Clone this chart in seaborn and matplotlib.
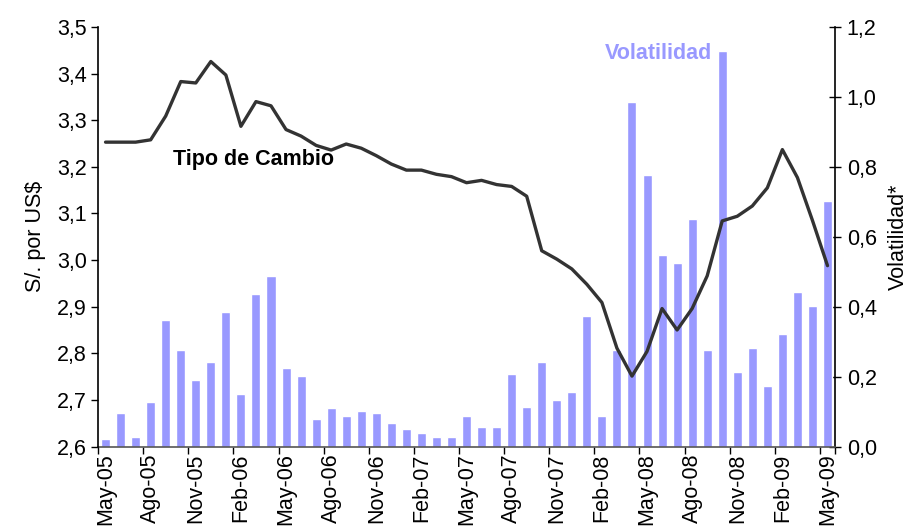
import matplotlib
matplotlib.use("Agg")
import matplotlib.pyplot as plt
import seaborn as sns
import pandas as pd
import numpy as np

months = ["May-05","Jun-05","Jul-05","Ago-05","Sep-05","Oct-05","Nov-05","Dic-05","Ene-06",
          "Feb-06","Mar-06","Abr-06","May-06","Jun-06","Jul-06","Ago-06","Sep-06","Oct-06",
          "Nov-06","Dic-06","Ene-07","Feb-07","Mar-07","Abr-07","May-07","Jun-07","Jul-07",
          "Ago-07","Sep-07","Oct-07","Nov-07","Dic-07","Ene-08","Feb-08","Mar-08","Abr-08",
          "May-08","Jun-08","Jul-08","Ago-08","Sep-08","Oct-08","Nov-08","Dic-08","Ene-09",
          "Feb-09","Mar-09","Abr-09","May-09"]

tipo_cambio = [3.253,3.253,3.253,3.258,3.309,3.383,3.380,3.426,3.397,3.287,3.340,3.331,
               3.280,3.266,3.246,3.236,3.249,3.240,3.224,3.206,3.193,3.193,3.184,3.179,
               3.166,3.171,3.162,3.158,3.137,3.020,3.002,2.981,2.948,2.909,2.811,2.751,
               2.804,2.896,2.850,2.896,2.966,3.084,3.094,3.116,3.155,3.237,3.177,3.085,2.988]

volatilidad = [0.022,0.097,0.028,0.126,0.362,0.276,0.189,0.241,0.386,0.149,0.437,0.489,
               0.224,0.201,0.080,0.109,0.086,0.103,0.097,0.068,0.051,0.039,0.028,0.028,
               0.086,0.057,0.057,0.207,0.114,0.241,0.132,0.155,0.374,0.086,0.276,0.986,
               0.778,0.547,0.524,0.651,0.276,1.130,0.212,0.282,0.172,0.322,0.443,0.403,0.703]

left_ticks = [2.6,2.7,2.8,2.9,3.0,3.1,3.2,3.3,3.4,3.5]
right_ticks = [0.0,0.2,0.4,0.6,0.8,1.0,1.2]

sns.set_theme(style="white")
plt.rcParams['font.family'] = ['Liberation Sans', 'DejaVu Sans']
plt.rcParams['text.color'] = 'black'
plt.rcParams['axes.labelcolor'] = 'black'
plt.rcParams['xtick.color'] = 'black'
plt.rcParams['ytick.color'] = 'black'

df = pd.DataFrame({"mes": months, "idx": np.arange(len(months)),
                   "tc": tipo_cambio, "vol": volatilidad})

fig = plt.figure(figsize=(9.11, 5.32), dpi=100)
ax = fig.add_axes([0.1076, 0.1607, 0.8090, 0.7885])  # bars (right scale)
ax2 = ax.twinx()  # line (left scale)

sns.barplot(data=df, x="mes", y="vol", color="#9999FF", saturation=1,
            width=0.6, ax=ax, order=months)
sns.lineplot(data=df, x="idx", y="tc", color="#333333", linewidth=2.4, ax=ax2)

n = len(months)
FS = 15.5

ax.set_ylim(0, 1.2)
ax2.set_ylim(2.6, 3.5)

# right axis for bars
ax.yaxis.tick_right()
ax.yaxis.set_label_position('right')
ax.set_yticks(right_ticks)
ax.set_yticklabels([f"{v:.1f}".replace('.', ',') for v in right_ticks], fontsize=FS)
ax.set_ylabel("Volatilidad*", fontsize=FS, labelpad=8)
ax.tick_params(axis='y', direction='inout', length=9, width=1, color='black',
               labelcolor='black', pad=4)

# left axis for line
ax2.yaxis.tick_left()
ax2.yaxis.set_label_position('left')
ax2.set_yticks(left_ticks)
ax2.set_yticklabels([f"{v:.1f}".replace('.', ',') for v in left_ticks], fontsize=FS)
ax2.set_ylabel("S/. por US$", fontsize=FS, labelpad=8)
ax2.tick_params(axis='y', direction='out', length=5, width=1, color='black',
                labelcolor='black', pad=3)

# x axis: labels every 3 months, ticks at category boundaries
lab_pos = list(range(0, n, 3))
ax.set_xticks(lab_pos)
ax.set_xticklabels([months[i] for i in lab_pos], rotation=90, fontsize=FS)
ax.set_xticks([p - 0.5 for p in lab_pos] + [n - 0.5], minor=True)
ax.tick_params(axis='x', which='major', length=0, pad=5, labelcolor='black')
ax.tick_params(axis='x', which='minor', direction='out', length=5, width=1,
               color='black', bottom=True)
ax.set_xlim(-0.5, n - 0.5)
ax.set_xlabel("")
ax2.set_xlabel("")

for a in (ax, ax2):
    for s in a.spines.values():
        s.set_visible(False)
ax2.spines['left'].set_visible(True)
ax2.spines['left'].set_color('black')
ax.spines['right'].set_visible(True)
ax.spines['right'].set_color('black')
ax.spines['bottom'].set_visible(True)
ax.spines['bottom'].set_color('#555555')
for sp in (ax2.spines['left'], ax.spines['right'], ax.spines['bottom']):
    sp.set_linewidth(1.2)

ax.text(0.1018, 0.685, "Tipo de Cambio", transform=ax.transAxes, fontsize=15.5,
        fontweight='bold', color='black', ha='left', va='center')
ax.text(0.761, 0.9357, "Volatilidad", transform=ax.transAxes, fontsize=15.5,
        fontweight='bold', color='#9999FF', ha='center', va='center')

fig.savefig("out.png", dpi=100)
